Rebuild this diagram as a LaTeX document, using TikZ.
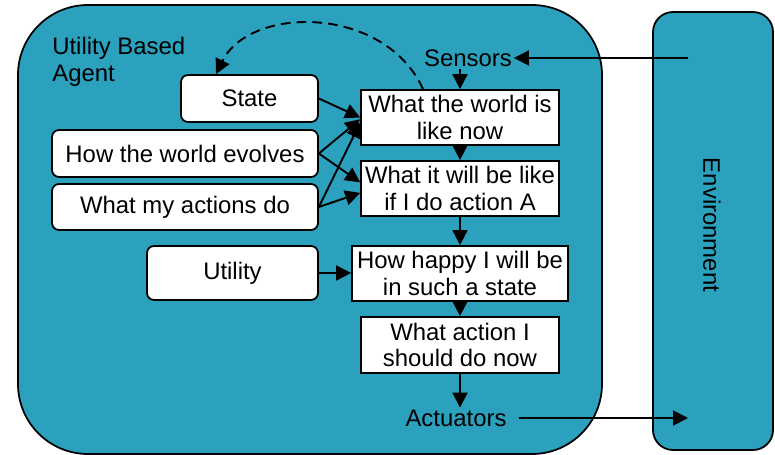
\documentclass[tikz,border=0pt]{standalone}
\usepackage{fontspec}
\setmainfont{Liberation Sans}
\usetikzlibrary{arrows.meta}

\definecolor{agentteal}{RGB}{43,161,190}

\begin{document}
\begin{tikzpicture}[
  x=0.02cm, y=-0.02cm,
  >={Triangle[length=8.5pt, width=8.5pt]},
  font=\fontsize{13.6}{15}\selectfont,
  shell/.style      = {draw=black, line width=1pt, fill=agentteal},
  knowledge box/.style = {draw=black, line width=1pt, fill=white,
                          rounded corners=4pt, inner sep=0pt},
  rule box/.style   = {draw=black, line width=1pt, fill=white,
                       align=center, inner sep=0pt},
  port label/.style = {inner sep=1pt},
  flow/.style       = {->, draw=black, line width=1.1pt},
  loop back/.style  = {->, draw=black, line width=1.1pt,
                       dash pattern=on 5.5pt off 3.5pt},
]

\useasboundingbox (0,0) rectangle (775,455);

% ── Agent and environment ─────────────────────────────────────────────────
\draw[shell, rounded corners=1.4cm] (18,5) rectangle (602,454);
\draw[shell, rounded corners=0.4cm] (653,12) rectangle (773,450);

\node[anchor=north west, align=left, inner sep=0pt] (title) at (52,37)
  {Utility Based\\Agent};
\node[rotate=-90] (env) at (712,225) {Environment};

% ── Internal knowledge ─────────────────────────────────────────────────────
\node[knowledge box, minimum width=2.74cm, minimum height=0.94cm]
  (state) at (249.5,98.5) {State};
\node[knowledge box, minimum width=5.32cm, minimum height=0.94cm]
  (evolves) at (185,153.5) {How the world evolves};
\node[knowledge box, minimum width=5.32cm, minimum height=0.92cm]
  (actions) at (185,207) {What my actions do};
\node[knowledge box, minimum width=3.42cm, minimum height=1.08cm]
  (utility) at (232.5,273) {Utility};

% ── Decision chain ─────────────────────────────────────────────────────────
\node[rule box, minimum width=3.96cm, minimum height=1.1cm]
  (wnow) at (460,117.5) {What the world is\\like now};
\node[rule box, minimum width=3.96cm, minimum height=1.1cm]
  (wnext) at (460,188.5) {What it will be like\\if I do action A};
\node[rule box, minimum width=4.32cm, minimum height=1.1cm]
  (happy) at (460,273.5) {How happy I will be\\in such a state};
\node[rule box, minimum width=3.96cm, minimum height=1.12cm]
  (choose) at (460,345) {What action I\\should do now};

\node[port label] (sensors) at (468,58) {Sensors};
\node[port label] (actuators) at (456,418) {Actuators};

\coordinate (envin)  at (688,58);
\coordinate (envout) at (688,418);

% ── Connectors ─────────────────────────────────────────────────────────────
\draw[flow] (envin) -- (sensors.east);
\draw[flow] (sensors.south -| wnow.north) -- (wnow.north);
\draw[flow] (wnow) -- (wnext);
\draw[flow] (wnext) -- (happy);
\draw[flow] (happy) -- (choose);
\draw[flow] (choose.south) -- (actuators.north -| choose.south);
\draw[flow] ([xshift=6pt]actuators.east) -- (envout);

\draw[flow] (state.east)   -- ([yshift=0pt]wnow.west);
\draw[flow] (evolves.east) -- ([yshift=-1pt]wnow.west);
\draw[flow] (actions.east) -- ([yshift=-3pt]wnow.west);
\draw[flow] (evolves.east) -- ([yshift=3.5pt]wnext.west);
\draw[flow] (actions.east) -- ([yshift=-2.5pt]wnext.west);
\draw[flow] (utility.east) -- (utility.east -| happy.west);

% state is fed back from the current world model
\draw[loop back] ([xshift=-0.74cm]wnow.north)
  .. controls (385,5) and (250,5) .. ([xshift=-0.67cm]state.north);

\end{tikzpicture}
\end{document}
